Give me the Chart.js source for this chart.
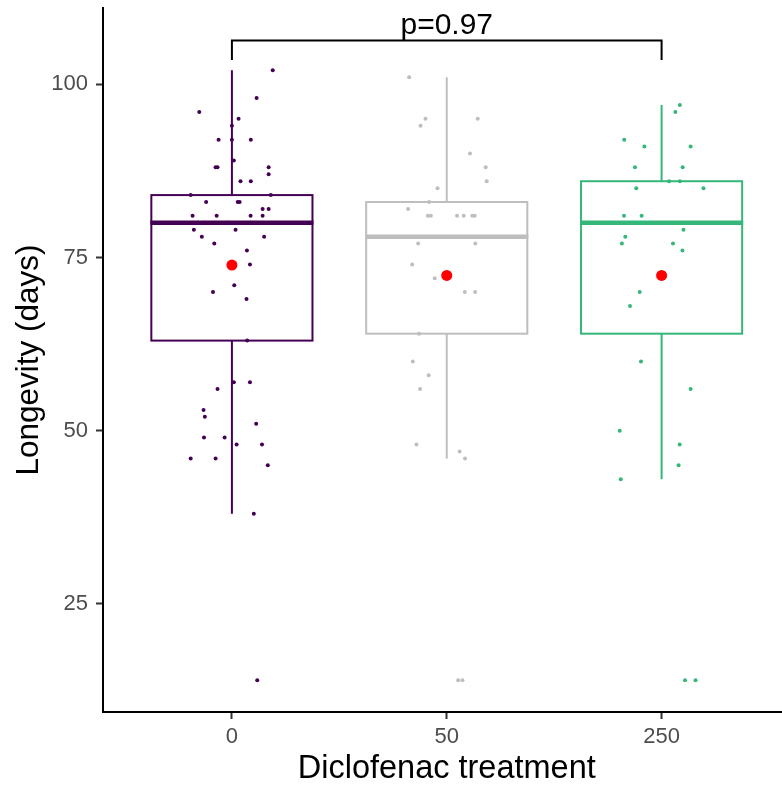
<!DOCTYPE html>
<html><head><meta charset="utf-8">
<script src="https://cdn.jsdelivr.net/npm/chart.js@4"></script>
<style>html,body{margin:0;padding:0;background:#fff;overflow:hidden;width:782px;height:790px}#wrap{width:796px;height:790px;position:relative}</style>
</head><body><div id="wrap"><canvas id="c"></canvas></div>
<script>
// ---- data ----
const categories = ['0', '50', '250'];
const yTicks = [25, 50, 75, 100];

const whiskerLow = [38, 46, 43];
const quart1 = [63, 64, 64];
const medians = [80, 78, 80];
const quart3 = [84, 83, 86];
const whiskerHigh = [102, 101, 97];
const means = [73.9, 72.4, 72.4];

const values0 = [102,98,96,95,94,92,92,92,89,88,88,88,87,86,86,84,84,83,83,83,82,82,81,81,81,81,80,80,80,80,79,79,78,78,77,76,74,71,70,69,63,57,57,56,53,52,51,49,49,48,48,46,46,45,38,14];
const jitter0 = [0.19,0.115,-0.152,0.031,0.0,-0.062,0.0,0.088,0.009,-0.076,-0.067,0.171,0.171,0.04,0.088,-0.192,0.181,-0.12,0.027,0.036,0.143,0.171,-0.183,-0.071,0.087,0.143,-0.157,-0.129,-0.019,0.088,-0.177,0.017,-0.14,0.15,-0.082,0.07,0.084,0.011,-0.088,0.068,0.071,0.009,0.084,-0.067,-0.132,-0.126,0.113,-0.13,-0.034,0.022,0.14,-0.192,-0.076,0.167,0.102,0.118];

const values50 = [101,95,94,95,90,88,86,85,83,82,81,81,81,81,81,81,77,77,74,72,70,70,64,60,58,56,48,47,46,14,14];
const jitter50 = [-0.175,-0.099,-0.122,0.144,0.108,0.181,0.186,-0.043,-0.082,-0.18,-0.088,-0.074,0.048,0.079,0.119,0.13,-0.133,0.133,-0.161,-0.056,0.084,0.132,-0.129,-0.158,-0.084,-0.124,-0.141,0.06,0.085,0.053,0.073];

const values250 = [97,96,92,91,91,88,88,86,86,85,85,81,81,80,78,77,79,77,76,70,68,60,56,50,48,45,43,14,14];
const jitter250 = [0.085,0.064,-0.174,-0.08,0.135,-0.124,0.098,0.035,0.085,-0.118,0.195,-0.175,-0.093,-0.2,-0.169,-0.185,0.102,0.053,0.097,-0.102,-0.147,-0.096,0.135,-0.195,0.084,0.079,-0.19,0.109,0.158];

const compareGroups = [0, 2];
const pLabel = 'p=0.97';
const bracketTop = 106.3;
const bracketTip = 103.5;

// ---- styling ----
const groupColors = ['#440154', '#BEBEBE', '#35B779'];
const FONT = "'Liberation Sans', Arial, sans-serif";
const groupValues = [values0, values50, values250];
const groupJitter = [jitter0, jitter50, jitter250];

const datasets = groupValues.map((vals, g) => ({
  label: categories[g],
  data: vals.map((v, k) => ({x: g + groupJitter[g][k], y: v})),
  backgroundColor: groupColors[g],
  borderColor: groupColors[g],
  pointRadius: 2,
  pointBorderWidth: 0,
  order: 2
}));
datasets.push({
  label: 'mean',
  data: means.map((m, g) => ({x: g, y: m})),
  backgroundColor: '#FF0000',
  borderColor: '#FF0000',
  pointRadius: 5.5,
  pointBorderWidth: 0,
  order: 1
});

const boxPlugin = {
  id: 'boxes',
  beforeDatasetsDraw(chart) {
    const {ctx, scales: {x, y}} = chart;
    ctx.save();
    for (let g = 0; g < categories.length; g++) {
      const cx = x.getPixelForValue(g);
      const l = x.getPixelForValue(g - 0.375);
      const r = x.getPixelForValue(g + 0.375);
      const pq1 = y.getPixelForValue(quart1[g]);
      const pq3 = y.getPixelForValue(quart3[g]);
      ctx.strokeStyle = groupColors[g];
      ctx.lineWidth = 2;
      ctx.beginPath();
      ctx.moveTo(cx, y.getPixelForValue(whiskerHigh[g])); ctx.lineTo(cx, pq3);
      ctx.moveTo(cx, pq1); ctx.lineTo(cx, y.getPixelForValue(whiskerLow[g]));
      ctx.stroke();
      ctx.fillStyle = '#FFFFFF';
      ctx.fillRect(l, pq3, r - l, pq1 - pq3);
      ctx.strokeRect(l, pq3, r - l, pq1 - pq3);
      ctx.lineWidth = 4.5;
      ctx.beginPath();
      const pm = y.getPixelForValue(medians[g]);
      ctx.moveTo(l - 1, pm); ctx.lineTo(r + 1, pm);
      ctx.stroke();
    }
    ctx.restore();
  },
  afterDatasetsDraw(chart) {
    const {ctx, scales: {x, y}} = chart;
    const x1 = x.getPixelForValue(compareGroups[0]);
    const x2 = x.getPixelForValue(compareGroups[1]);
    const yt = y.getPixelForValue(bracketTop);
    const yb = y.getPixelForValue(bracketTip);
    ctx.save();
    ctx.strokeStyle = '#000';
    ctx.lineWidth = 2;
    ctx.beginPath();
    ctx.moveTo(x1, yb); ctx.lineTo(x1, yt); ctx.lineTo(x2, yt); ctx.lineTo(x2, yb);
    ctx.stroke();
    ctx.fillStyle = '#000';
    ctx.font = '30px ' + FONT;
    ctx.textAlign = 'center';
    ctx.textBaseline = 'alphabetic';
    ctx.fillText(pLabel, (x1 + x2) / 2, yt - 7);
    ctx.restore();
  }
};

new Chart(document.getElementById('c'), {
  type: 'scatter',
  data: {datasets},
  options: {
    responsive: true,
    maintainAspectRatio: false,
    animation: false,
    devicePixelRatio: 1,
    layout: {padding: {top: 8, right: 0, left: 0, bottom: 0}},
    plugins: {legend: {display: false}, tooltip: {enabled: false}},
    scales: {
      x: {
        type: 'linear',
        min: -0.6,
        max: 2.6,
        afterBuildTicks: s => { s.ticks = categories.map((c, i) => ({value: i})); },
        afterFit: s => { s.height = 78; s.paddingLeft = 0; s.paddingRight = 0; },
        ticks: {
          autoSkip: false,
          callback: v => categories[Math.round(v)],
          color: '#4D4D4D',
          font: {family: FONT, size: 22},
          padding: 5,
          maxRotation: 0
        },
        grid: {display: true, drawOnChartArea: false, drawTicks: true, tickLength: 7, tickWidth: 2, tickColor: '#333333'},
        border: {display: true, color: '#000000', width: 2},
        title: {display: true, text: 'Diclofenac treatment', color: '#000', font: {family: FONT, size: 32.5}, padding: {top: 0, bottom: 1}}
      },
      y: {
        type: 'linear',
        min: 9.4,
        max: 111,
        afterBuildTicks: s => { s.ticks = yTicks.map(v => ({value: v})); },
        afterFit: s => { s.width = 103; s.paddingTop = 0; s.paddingBottom = 0; },
        ticks: {
          autoSkip: false,
          color: '#4D4D4D',
          font: {family: FONT, size: 22},
          padding: 8
        },
        grid: {display: true, drawOnChartArea: false, drawTicks: true, tickLength: 7, tickWidth: 2, tickColor: '#333333'},
        border: {display: true, color: '#000000', width: 2},
        title: {display: true, text: 'Longevity (days)', color: '#000', font: {family: FONT, size: 31.5}, padding: {top: 10, bottom: 0}}
      }
    }
  },
  plugins: [boxPlugin]
});
</script></body></html>
